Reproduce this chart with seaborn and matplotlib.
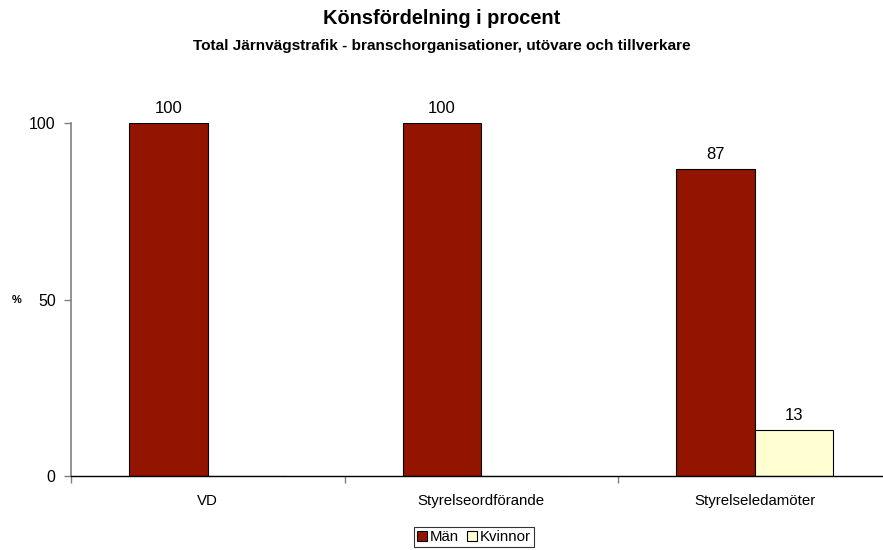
import matplotlib
matplotlib.use("Agg")
import matplotlib.pyplot as plt
import seaborn as sns
import pandas as pd

categories = ["VD", "Styrelseordförande", "Styrelseledamöter"]
man = [100, 100, 87]
kvinnor = [0, 0, 13]
series = ["Män", "Kvinnor"]
colors = ["#931500", "#FFFFD2"]
yticks = [0, 50, 100]

df = pd.DataFrame({
    "kategori": categories * 2,
    "serie": [series[0]] * 3 + [series[1]] * 3,
    "varde": man + kvinnor,
})

sns.set_style("white")
plt.rcParams['font.family'] = ['Liberation Sans', 'DejaVu Sans']
plt.rcParams['text.color'] = 'black'
plt.rcParams['xtick.color'] = 'black'
plt.rcParams['ytick.color'] = 'black'
plt.rcParams['axes.labelcolor'] = 'black'

fig = plt.figure(figsize=(8.83, 5.5), dpi=100)
ax = fig.add_axes([71/883, 1 - 476/550, 820.5/883, (476-123)/550])

sns.barplot(data=df, x="kategori", y="varde", hue="serie", order=categories,
            hue_order=series, palette=colors, width=0.575, gap=0, saturation=1,
            edgecolor="black", linewidth=0.8, ax=ax, legend=True)

for cont in ax.containers:
    for bar in cont:
        h = bar.get_height()
        if h > 0:
            ax.annotate(f"{h:.0f}", (bar.get_x() + bar.get_width()/2, h),
                        xytext=(0, 5), textcoords="offset points",
                        ha="center", va="bottom", fontsize=12, color="black",
                        annotation_clip=False)

ax.set_xlim(-0.5, 2.5)
ax.set_ylim(0, 100)
ax.set_yticks(yticks)
ax.set_yticklabels([str(v) for v in yticks], fontsize=11.5)
ax.tick_params(axis="y", direction="out", length=5, width=1, color="#808080",
               labelcolor="black", pad=6, left=True)
ax.set_xticks(range(3))
ax.set_xticklabels(categories, fontsize=10.8)
ax.tick_params(axis="x", length=0, pad=13, labelcolor="black")
ax.set_xticks([-0.5, 0.5, 1.5, 2.5], minor=True)
ax.tick_params(axis="x", which="minor", direction="out", length=5, width=1,
               color="#808080", bottom=True)

for s in ["top", "right"]:
    ax.spines[s].set_visible(False)
ax.spines["left"].set_color("#808080")
ax.spines["left"].set_linewidth(1.2)
ax.spines["bottom"].set_color("black")
ax.spines["bottom"].set_linewidth(1)

ax.set_xlabel("")
ax.set_ylabel("")
fig.text(12/883, 1 - 300/550, "%", fontsize=8, fontweight="bold", ha="left", va="center")

fig.text(0.5, 1 - 18/550, "Könsfördelning i procent", fontsize=14.4, fontweight="bold",
         ha="center", va="center")
fig.text(0.5, 1 - 46/550, "Total Järnvägstrafik - branschorganisationer, utövare och tillverkare",
         fontsize=11.1, fontweight="bold", ha="center", va="center")

leg = ax.legend(loc="center", bbox_to_anchor=(474/883, 1 - 537/550),
                bbox_transform=fig.transFigure, ncol=2, frameon=True, fontsize=10.8,
                handlelength=0.65, handleheight=0.65, handletextpad=0.2,
                columnspacing=0.5, borderpad=0.2, fancybox=False)
leg.get_frame().set_edgecolor("black")
leg.get_frame().set_linewidth(0.8)
for h in leg.legend_handles:
    h.set_edgecolor("black")
    h.set_linewidth(0.8)

fig.savefig("out.png", dpi=100)
